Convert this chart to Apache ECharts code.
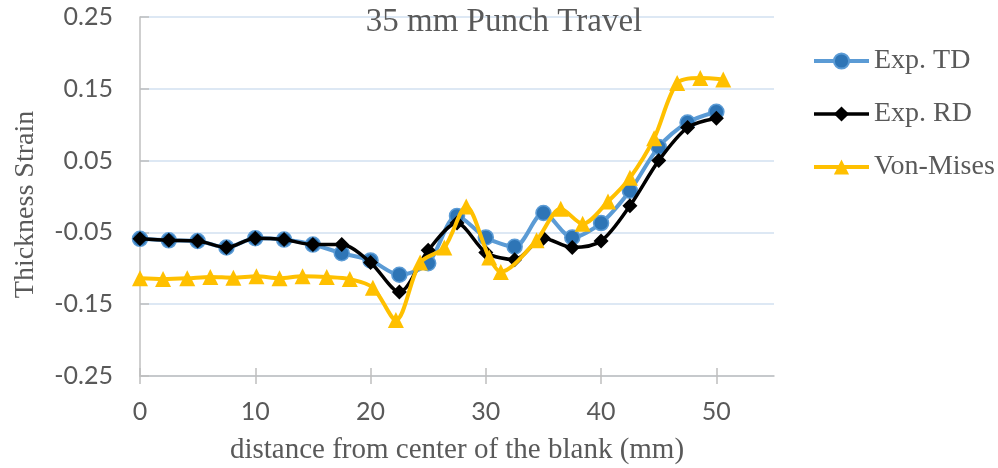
<!DOCTYPE html>
<html>
<head>
<meta charset="utf-8">
<script src="https://cdn.jsdelivr.net/npm/echarts@6/dist/echarts.min.js"></script>
<style>
  html, body { margin: 0; padding: 0; background: #ffffff; }
  #chart { width: 998px; height: 468px; }
</style>
</head>
<body>
<div id="chart"></div>
<script>
// Measured thickness strain along the blank radius (mm)
const distExp = [0, 2.5, 5, 7.5, 10, 12.5, 15, 17.5, 20, 22.5, 25, 27.5, 30, 32.5, 35, 37.5, 40, 42.5, 45, 47.5, 50];
const expTD = [-0.059, -0.061, -0.062, -0.071, -0.058, -0.060, -0.067, -0.079, -0.089, -0.109, -0.093, -0.027, -0.057, -0.070, -0.023, -0.057, -0.037, 0.008, 0.069, 0.103, 0.118];
const expRD = [-0.059, -0.061, -0.062, -0.071, -0.058, -0.060, -0.067, -0.067, -0.092, -0.133, -0.075, -0.037, -0.078, -0.088, -0.058, -0.071, -0.062, -0.013, 0.050, 0.096, 0.109];

// Simulated (Von-Mises) thickness strain
const distVM = [0, 2.0, 4.1, 6.1, 8.1, 10.1, 12.1, 14.1, 16.2, 18.2, 20.2, 22.2, 24.3, 26.4, 28.3, 30.3, 31.3, 34.4, 36.5, 38.4, 40.6, 42.5, 44.6, 46.6, 48.6, 50.6];
const vonMises = [-0.114, -0.115, -0.114, -0.112, -0.113, -0.111, -0.114, -0.111, -0.112, -0.115, -0.127, -0.172, -0.092, -0.071, -0.014, -0.085, -0.105, -0.061, -0.017, -0.038, -0.007, 0.026, 0.081, 0.158, 0.165, 0.163];

// Axis ticks
const xTicks = [0, 10, 20, 30, 40, 50];
const yTicks = [-0.25, -0.15, -0.05, 0.05, 0.15, 0.25];

const pairs = (xs, ys) => xs.map((x, i) => [x, ys[i]]);

const textGray = '#595959';
const serif = '"Liberation Serif", "Times New Roman", serif';
const sans = 'Lato, "Open Sans", sans-serif';

const chart = echarts.init(document.getElementById('chart'), null, { renderer: 'canvas' });

chart.setOption({
  animation: false,
  backgroundColor: '#ffffff',
  title: {
    text: '35 mm Punch Travel',
    left: 499,
    top: 1,
    textAlign: 'center',
    textStyle: { fontFamily: serif, fontSize: 33, fontWeight: 'normal', color: textGray }
  },
  legend: {
    orient: 'vertical',
    left: 812,
    top: 46,
    padding: 0,
    itemWidth: 55,
    itemHeight: 19,
    itemGap: 23,
    textStyle: { fontFamily: serif, fontSize: 28, color: textGray, lineHeight: 30 },
    data: [
      { name: 'Exp. TD', lineStyle: { width: 4 } },
      { name: 'Exp. RD', lineStyle: { width: 3.5 } },
      { name: 'Von-Mises', lineStyle: { width: 4 } }
    ]
  },
  grid: { left: 140, right: 224, top: 17, bottom: 92, containLabel: false, outerBoundsMode: 'none' },
  xAxis: [
    {
      type: 'value',
      position: 'bottom',
      min: 0,
      max: 55,
      name: 'distance from center of the blank (mm)',
      nameLocation: 'middle',
      nameGap: 60,
      nameTextStyle: { fontFamily: serif, fontSize: 29, color: textGray },
      axisLine: { show: true, onZero: false, lineStyle: { color: '#bfbfbf', width: 1.5 } },
      axisTick: { show: true, inside: true, length: 8, customValues: xTicks, lineStyle: { color: '#bfbfbf', width: 1.5 } },
      axisLabel: { customValues: xTicks, margin: 23, fontFamily: sans, fontSize: 25, color: textGray },
      splitLine: { show: false }
    },
    {
      type: 'value',
      position: 'bottom',
      min: 0,
      max: 55,
      axisLine: { show: false, onZero: false },
      axisTick: { show: true, inside: false, length: 8, customValues: xTicks, lineStyle: { color: '#bfbfbf', width: 1.5 } },
      axisLabel: { show: false },
      splitLine: { show: false }
    }
  ],
  yAxis: {
    type: 'value',
    min: -0.25,
    max: 0.25,
    name: 'Thickness Strain',
    nameLocation: 'middle',
    nameGap: 100,
    nameRotate: 90,
    nameTextStyle: { fontFamily: serif, fontSize: 28, color: textGray, padding: [0, 16, 0, 0] },
    axisLine: { show: true, lineStyle: { color: '#bfbfbf', width: 1.5 } },
    axisTick: { show: true, inside: true, length: 9, customValues: yTicks, lineStyle: { color: '#bfbfbf', width: 1.5 } },
    axisLabel: {
      customValues: yTicks,
      margin: 27,
      fontFamily: sans,
      fontSize: 25,
      color: textGray,
      formatter: v => v.toFixed(2)
    },
    splitLine: { show: true, lineStyle: { color: '#d2e1f1', width: 1.5 } }
  },
  series: [
    {
      name: 'Exp. TD',
      type: 'line',
      xAxisIndex: 0,
      data: pairs(distExp, expTD),
      smooth: 0.3,
      symbol: 'circle',
      symbolSize: 15,
      lineStyle: { color: '#5b9bd5', width: 4 },
      itemStyle: { color: '#2e75b6', borderColor: '#5b9bd5', borderWidth: 1.5 },
      z: 2
    },
    {
      name: 'Exp. RD',
      type: 'line',
      xAxisIndex: 0,
      data: pairs(distExp, expRD),
      smooth: 0.3,
      symbol: 'diamond',
      symbolSize: 15,
      lineStyle: { color: '#000000', width: 3.5 },
      itemStyle: { color: '#000000' },
      z: 3
    },
    {
      name: 'Von-Mises',
      type: 'line',
      xAxisIndex: 0,
      data: pairs(distVM, vonMises),
      smooth: 0.3,
      symbol: 'triangle',
      symbolSize: 16,
      lineStyle: { color: '#ffc000', width: 4 },
      itemStyle: { color: '#ffc000' },
      z: 4
    }
  ]
});
</script>
</body>
</html>
